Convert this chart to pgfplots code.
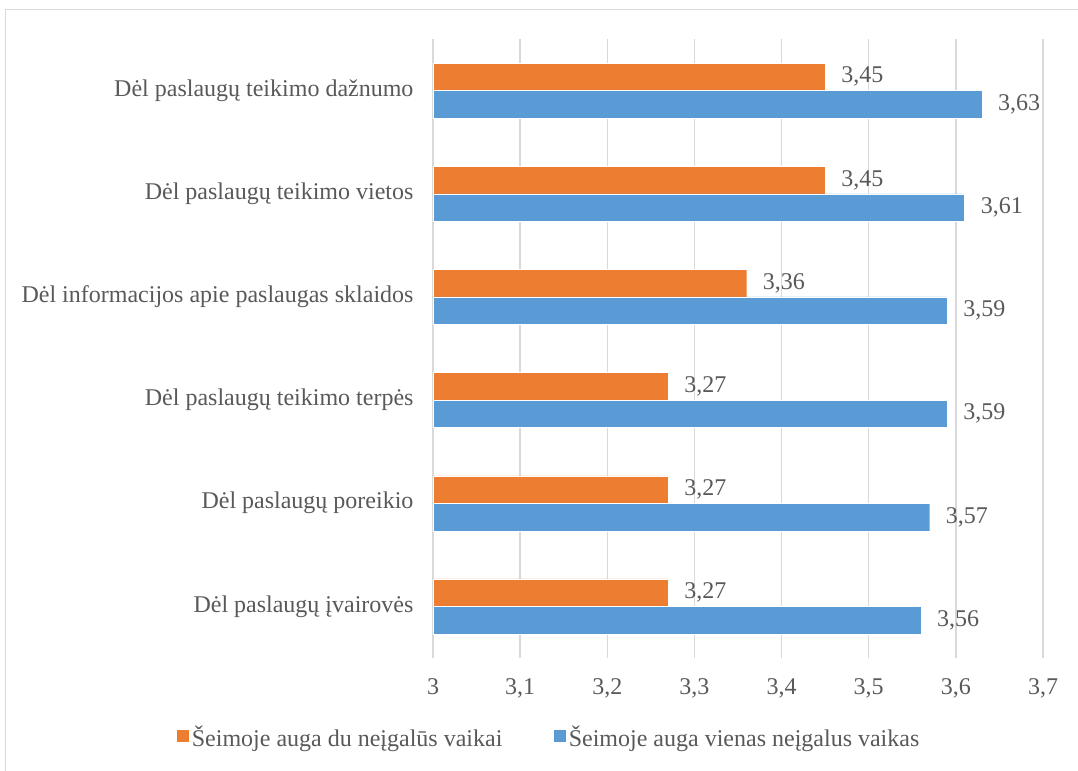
\documentclass[border=0pt]{standalone}
\usepackage{fontspec}
\setmainfont{Liberation Serif}
\usepackage{pgfplots}
\pgfplotsset{compat=1.18}
\definecolor{orangebar}{HTML}{ED7D31}
\definecolor{bluebar}{HTML}{5B9BD5}
\definecolor{gridgray}{HTML}{D9D9D9}
\definecolor{textgray}{HTML}{595959}
\newcommand{\chartfont}{\fontsize{24bp}{28bp}\selectfont}
\begin{document}
\begin{tikzpicture}
\useasboundingbox (0,0) rectangle (1078bp,-771bp);
% chart frame
\draw[gridgray, line width=1.6bp] (5.5bp,-771bp) -- (5.5bp,-9.5bp) -- (1078bp,-9.5bp);
\begin{axis}[
  at={(433bp,-658bp)}, anchor=south west,
  scale only axis,
  width=610bp, height=619bp,
  xbar, bar width=27.5bp,
  xmin=3, xmax=3.7,
  ymin=-0.5, ymax=5.5,
  xtick={3,3.1,3.2,3.3,3.4,3.5,3.6,3.7},
  ytick={0,1,2,3,4,5},
  yticklabels={Dėl paslaugų įvairovės, Dėl paslaugų poreikio, Dėl paslaugų teikimo terpės, Dėl informacijos apie paslaugas sklaidos, Dėl paslaugų teikimo vietos, Dėl paslaugų teikimo dažnumo},
  xmajorgrids=true,
  major grid style={gridgray, line width=1.5bp},
  axis line style={draw=none},
  major tick length=0pt,
  tick style={draw=none},
  /pgf/number format/assume math mode=true,
  /pgf/number format/use comma,
  xticklabel style={font=\chartfont, text=textgray, yshift=-17bp},
  yticklabel style={font=\chartfont, text=textgray, xshift=-16bp},
  nodes near coords={\pgfmathprintnumber[fixed, fixed zerofill, precision=2, use comma]{\pgfplotspointmeta}},
  point meta=x,
  every node near coord/.append style={font=\chartfont, text=textgray, anchor=west, inner sep=0pt, xshift=16bp},
  legend columns=2,
  legend style={draw=none, fill=none, font=\chartfont, text=textgray,
    at={(0.19,-0.127)}, anchor=center,
    /tikz/every even column/.append style={column sep=49bp}},
  legend image code/.code={\fill[#1] (0bp,-6bp) rectangle (13bp,7bp);},
]
\addplot[fill=orangebar, draw=white, line width=0.4bp, bar shift=13.75bp]
  coordinates {(3.27,0) (3.27,1) (3.27,2) (3.36,3) (3.45,4) (3.45,5)};
\addlegendentry{Šeimoje auga du neįgalūs vaikai}
\addplot[fill=bluebar, draw=white, line width=0.4bp, bar shift=-13.75bp]
  coordinates {(3.56,0) (3.57,1) (3.59,2) (3.59,3) (3.61,4) (3.63,5)};
\addlegendentry{Šeimoje auga vienas neįgalus vaikas}
\end{axis}
\end{tikzpicture}
\end{document}
